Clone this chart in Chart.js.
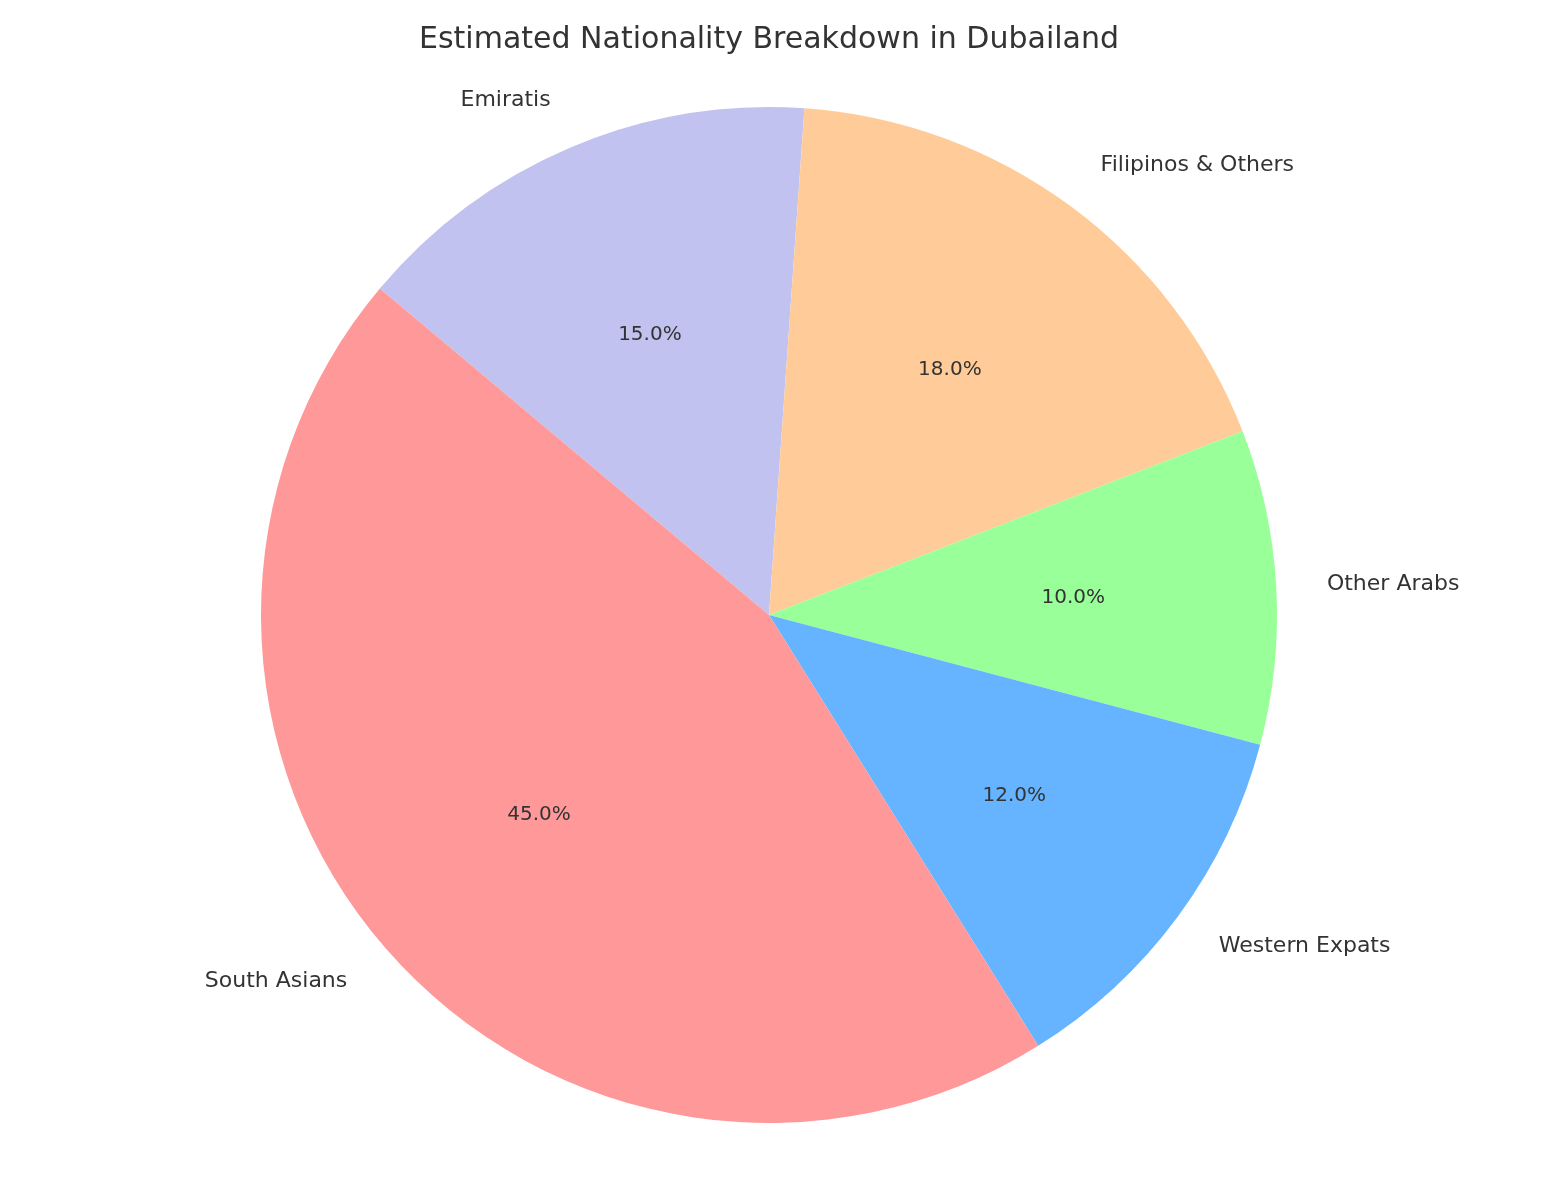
<!DOCTYPE html>
<html><head><meta charset="utf-8">
<script src="https://cdn.jsdelivr.net/npm/chart.js@4"></script>
<style>html,body{margin:0;padding:0;background:#fff}</style>
</head><body>
<canvas id="c" width="1546" height="1180" style="width:1546px;height:1180px"></canvas>
<script>
// clockwise order (matplotlib drew counter-clockwise from 140°)
const categories = ["Emiratis","Filipinos & Others","Other Arabs","Western Expats","South Asians"];
const values = [15,18,10,12,45];
const colors = ["#c2c2f0","#ffcc99","#99ff99","#66b3ff","#ff9999"];
const title = "Estimated Nationality Breakdown in Dubailand";

const labelPlugin = {
  id:'lbl',
  afterDraw(chart){
    const ctx = chart.ctx;
    const total = values.reduce((a,b)=>a+b,0);
    ctx.save();
    ctx.fillStyle = '#333333';
    ctx.textBaseline = 'middle';
    ctx.font = '30px "DejaVu Sans"';
    ctx.textAlign = 'center';
    ctx.fillText(title, 769, 40);
    chart.getDatasetMeta(0).data.forEach((arc,i)=>{
      const mid = (arc.startAngle+arc.endAngle)/2;
      const r = arc.outerRadius;
      const cx = arc.x, cy = arc.y;
      const lx = cx + Math.cos(mid)*r*1.1, ly = cy + Math.sin(mid)*r*1.1;
      ctx.font = '22px "DejaVu Sans"';
      ctx.textAlign = Math.cos(mid) >= 0 ? 'left' : 'right';
      ctx.fillText(categories[i], lx, ly);
      const px = cx + Math.cos(mid)*r*0.6, py = cy + Math.sin(mid)*r*0.6;
      ctx.font = '20px "DejaVu Sans"';
      ctx.textAlign = 'center';
      ctx.fillText((values[i]/total*100).toFixed(1)+'%', px, py);
    });
    ctx.restore();
  }
};

new Chart(document.getElementById('c'), {
  type:'pie',
  data:{labels:categories,datasets:[{data:values,backgroundColor:colors,borderWidth:0}]},
  options:{
    responsive:false, animation:false, devicePixelRatio:1,
    rotation:-50,
    layout:{padding:{left:261,right:269,top:107,bottom:57}},
    plugins:{legend:{display:false},tooltip:{enabled:false}}
  },
  plugins:[labelPlugin]
});
</script>
</body></html>
